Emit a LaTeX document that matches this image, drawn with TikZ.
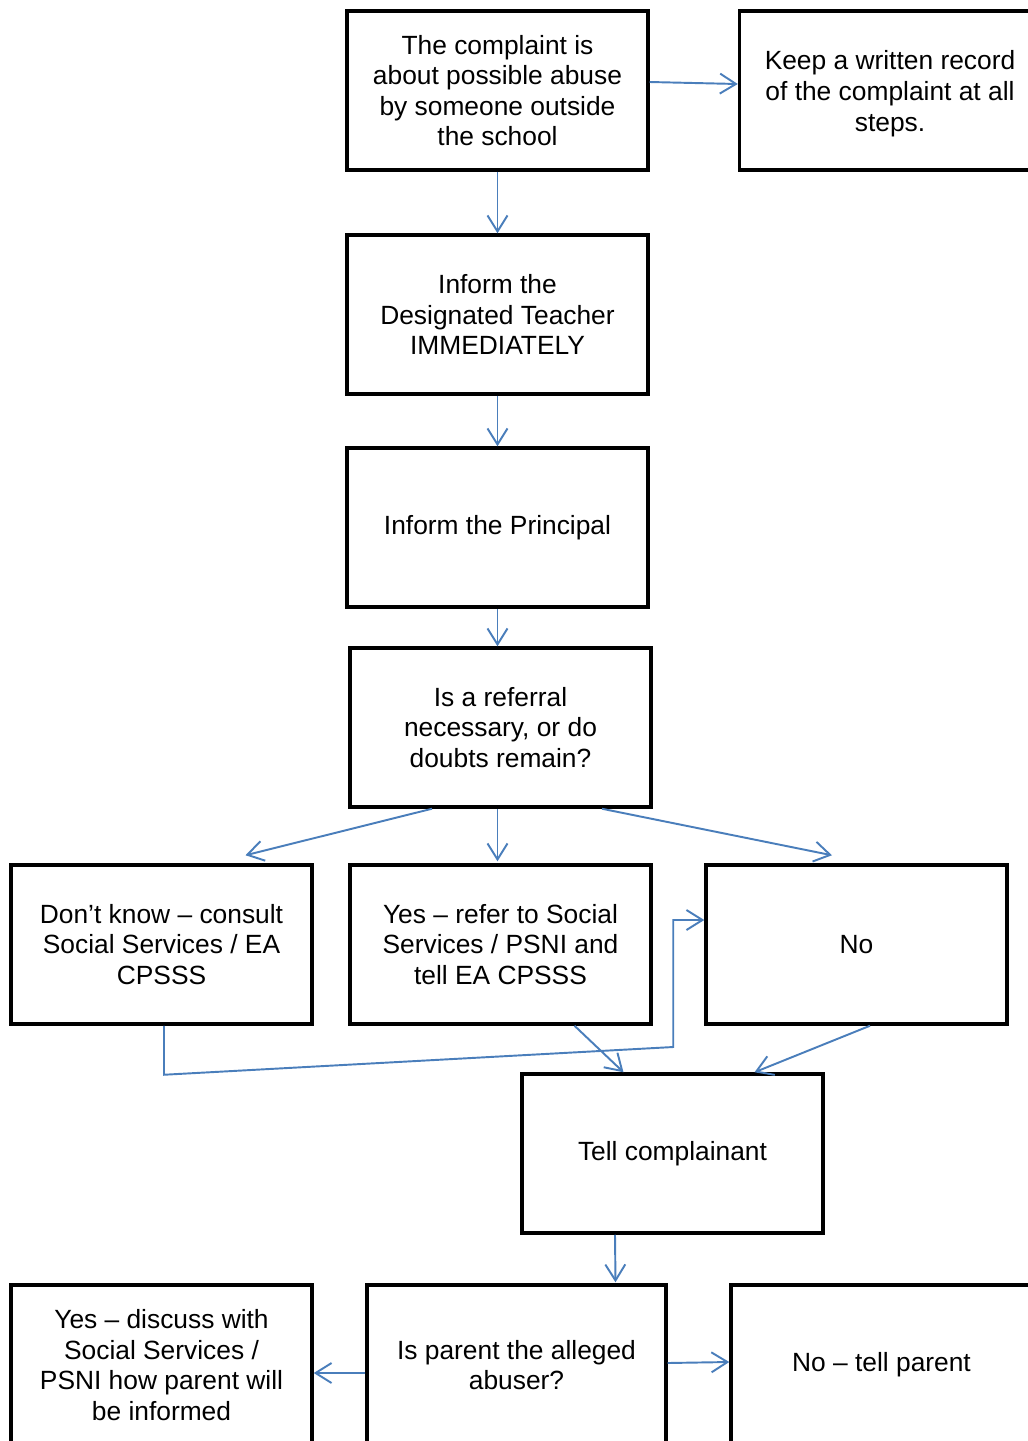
\documentclass[tikz,border=0pt]{standalone}
\usepackage{fontspec}
\setmainfont{Liberation Sans}
\usetikzlibrary{arrows.meta,calc}

\begin{document}
\begin{tikzpicture}[x=0.02cm, y=-0.02cm,
    box/.style={draw=black, line width=2pt, fill=white, minimum width=6.02cm, minimum height=3.18cm,
      align=center, inner sep=0pt, font=\fontsize{15pt}{17.4pt}\selectfont},
    link/.style={draw={rgb,255:red,74;green,126;blue,187}, line width=1.1pt,
      -{Straight Barb[length=0.32cm, width=0.4cm]}}]
    \useasboundingbox (0,0) rectangle (1028,1441);
    \clip (0,0) rectangle (1028,1441);
    % boxes
    \node[box] (complaint) at (497.5,90.5) {The complaint is\\about possible abuse\\by someone outside\\the school};
    \node[box] (keep) at (890,90.5) {\\[-0.1cm]Keep a written record\\of the complaint at all\\steps.};
    \node[box] (designated) at (497.5,314.5) {Inform the\\Designated Teacher\\IMMEDIATELY};
    \node[box] (principal) at (497.5,527.5) {Inform the Principal};
    \node[box] (referral) at (500.5,727.5) {Is a referral\\necessary, or do\\doubts remain?};
    \node[box] (dontknow) at (161.5,944.5) {Don’t know – consult\\Social Services / EA\\CPSSS};
    \node[box] (yes) at (500.5,944.5) {Yes – refer to Social\\Services / PSNI and\\tell EA CPSSS};
    \node[box] (no) at (856.5,944.5) {No};
    \node[box] (tell) at (672.5,1153.5) {Tell complainant};
    \node[box, minimum height=3.2cm] (discuss) at (161.5,1365) {Yes – discuss with\\Social Services /\\PSNI how parent will\\be informed};
    \node[box, minimum height=3.2cm, minimum width=5.98cm] (parent) at (516.5,1365) {Is parent the alleged\\abuser?};
    \node[box, minimum height=3.2cm] (notell) at (881.5,1365) {No – tell parent};
    % connectors
    \draw[link] ($(complaint.east)+(0,-8.5)$) -- ($(keep.west)+(0,-6.5)$);
    \draw[link] (complaint.south) -- (designated.north);
    \draw[link] (designated.south) -- (principal.north);
    \draw[link] (principal.south) -- (principal.south |- referral.north);
    \draw[link] ($(referral.south)+(-68.5,0)$) -- ($(dontknow.north)+(84,-8)$);
    \draw[link] ($(referral.south)+(-3,0)$) -- ($(yes.north)+(-3,-2)$);
    \draw[link] ($(referral.south)+(101.5,0)$) -- ($(no.north)+(-24.5,-8)$);
    \draw[link] ($(yes.south)+(74,0)$) -- ($(tell.north)+(-49,0)$);
    \draw[link] ($(no.south)+(13.5,0)$) -- ($(tell.north)+(82,0)$);
    \coordinate (bend) at ($(no.west)+(-31,102.5)$);
    \draw[link] ($(dontknow.south)+(2.5,0)$) -- ++(0,49) -- (bend) |- ($(no.west)+(0,-24.5)$);
    \draw[link] ($(tell.south)+(-57.5,0)$) -- ($(parent.north)+(99,-1)$);
    \draw[link] ($(parent.west)+(0,8)$) -- ($(discuss.east)+(0,8)$);
    \draw[link] ($(parent.east)+(0,-2)$) -- ($(notell.west)+(0,-3)$);
\end{tikzpicture}
\end{document}
